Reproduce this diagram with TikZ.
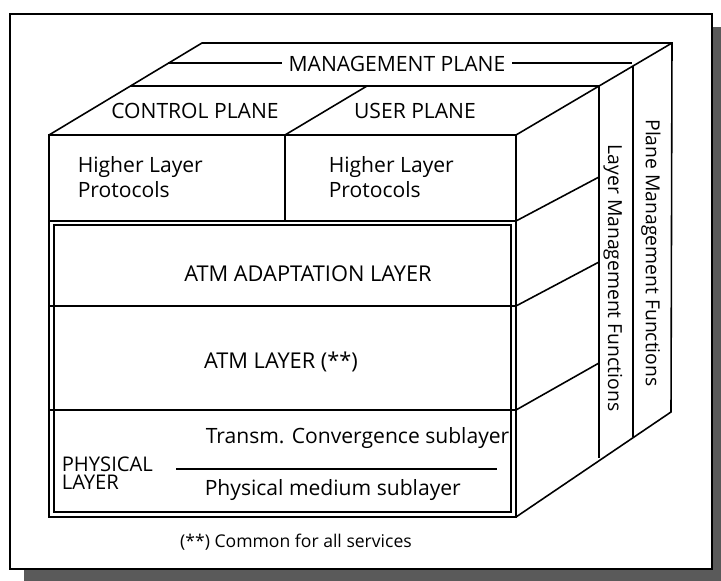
\documentclass[tikz,border=0pt]{standalone}
\usepackage{fontspec}
\setmainfont{Open Sans}
\usetikzlibrary{positioning,calc}
\definecolor{shadowgray}{HTML}{5A5A5A}

\begin{document}
\begin{tikzpicture}[x=0.2mm, y=-0.2mm, line width=0.9pt,
  lab/.style={font=\fontsize{12}{14.2}\selectfont, inner sep=0pt},
  biglab/.style={lab, font=\fontsize{12.4}{14.2}\selectfont},
  sidelab/.style={lab, font=\fontsize{11}{13}\selectfont, rotate=-90},
  note/.style={font=\fontsize{10}{12}\selectfont, inner sep=0pt}]
\useasboundingbox (0,0) rectangle (721,581);
% frame with its shadow
\fill[shadowgray] (24,27) rectangle (721,581);
\draw[fill=white, line width=1.1pt] (10,14) rectangle (712,569);
% corners of the cube
\coordinate (ftl) at (49,135);
\coordinate (ftr) at (516,135);
\coordinate (fbr) at (516,517);
\coordinate (btl) at (202,43);
\coordinate (btr) at (672,43);
\coordinate (bbr) at (671,412);
% outline and management slabs
\draw (ftl) -- (btl) -- (btr) -- (bbr) -- (fbr);
\draw (ftr) -- (btr);
\draw (130,86) -- (599,86) -- (599,458);
\draw (633,66) -- (633,437);
\draw (285,135) -- (367,86);
% front face
\draw (ftl) rectangle (fbr);
\draw (285,135) -- (285,221);
\draw (54,225) rectangle (511,512);
\foreach \f/\s in {221/177, 306/262, 410/363}
  \draw (49,\f) -- (516,\f) -- (599,\s);
\draw (176,469) -- (497,469);
% labels
\node[lab, anchor=base, fill=white, inner xsep=1.2mm] (mgmt) at (397,72) {MANAGEMENT PLANE};
\coordinate (mgl) at (168,63);
\coordinate (mgr) at (632,63);
\draw (mgl) -- (mgl -| mgmt.west);
\draw (mgmt.east |- mgr) -- (mgr);
\node[lab, anchor=base] (ctrl) at (195,119) {CONTROL PLANE};
\node[lab, anchor=base] (user) at (415,119) {USER PLANE};
\node[lab, anchor=north west, align=left] (hlpc) at (77,156) {Higher Layer\\Protocols};
\node[lab, anchor=north west, align=left] (hlpu) at (328,156) {Higher Layer\\Protocols};
\node[biglab, anchor=base] (aal) at (308,281) {ATM ADAPTATION LAYER};
\node[biglab, anchor=base] (atm) at (281,368) {ATM LAYER (**)};
\node[lab, font=\fontsize{11.5}{10}\selectfont, anchor=north west, align=left] (phy) at (61,456) {PHYSICAL\\LAYER};
\node[lab, anchor=base west] (tc) at (205,443) {Transm. Convergence sublayer};
\node[lab, anchor=base west] (pm) at (204,495) {Physical medium sublayer};
\node[note, anchor=base] (foot) at (296,547) {(**) Common for all services};
\node[sidelab] (lmf) at (613,278) {Layer Management Functions};
\node[sidelab] (pmf) at (651,253) {Plane Management Functions};
\end{tikzpicture}
\end{document}
